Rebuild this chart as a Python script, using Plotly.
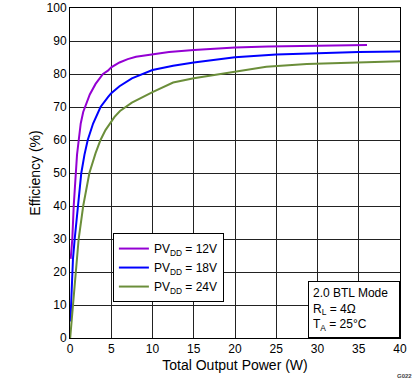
import plotly.graph_objects as go

# Data
p12_x = [0.08, 0.28, 0.45, 0.65, 0.85, 1.06, 1.3, 1.6, 2.0, 2.4, 3.1, 4, 4.6, 5, 6, 7, 8, 10, 12, 15, 17.5, 20, 24, 28, 33.5, 36]
p12_y = [24, 30, 40, 50, 55.5, 60, 65, 68.5, 71.5, 73.8, 77, 80, 81, 82, 83.5, 84.5, 85.2, 86, 86.7, 87.3, 87.7, 88, 88.3, 88.4, 88.7, 88.8]

p18_x = [0.05, 0.1, 0.36, 0.57, 0.97, 1.37, 1.75, 2.15, 2.8, 3.7, 4.6, 5, 6, 7.5, 10, 12.5, 15, 20, 25, 30, 35, 40]
p18_y = [5, 8, 24, 30, 40, 50, 55.5, 60, 65, 70, 73, 74.2, 76.3, 78.7, 81.2, 82.5, 83.5, 85.1, 85.9, 86.4, 86.7, 86.8]

p24_x = [0.02, 0.36, 0.65, 1.05, 1.6, 2.35, 3.1, 3.7, 4.3, 5.4, 6.06, 7.5, 10, 12.5, 15, 20, 23.8, 28.7, 33.5, 38.4, 40]
p24_y = [0, 10, 20, 30, 40, 50, 56, 60, 63, 67, 68.8, 71.3, 74.5, 77.4, 78.7, 80.6, 82.2, 83, 83.4, 83.8, 83.9]

series_names = ["PV<sub>DD</sub> = 12V", "PV<sub>DD</sub> = 18V", "PV<sub>DD</sub> = 24V"]
series_colors = ["#9400D3", "#0000FF", "#6B8E3A"]

x_ticks = [0, 5, 10, 15, 20, 25, 30, 35, 40]
y_ticks = [0, 10, 20, 30, 40, 50, 60, 70, 80, 90, 100]

FONT = "Liberation Sans, Arial, sans-serif"

fig = go.Figure()
for xs, ys, name, col in zip([p12_x, p18_x, p24_x], [p12_y, p18_y, p24_y], series_names, series_colors):
    fig.add_trace(go.Scatter(x=xs, y=ys, mode="lines", name=name,
                             line=dict(color=col, width=2)))

fig.update_layout(
    width=419, height=382,
    margin=dict(l=70, r=19, t=8, b=44),
    paper_bgcolor="white", plot_bgcolor="white",
    font=dict(family=FONT, size=12, color="black"),
    showlegend=True,
    legend=dict(x=0.13, y=0.318, xanchor="left", yanchor="top",
                bordercolor="black", borderwidth=1, bgcolor="white",
                font=dict(size=12), itemwidth=30, tracegroupgap=0),
)
fig.update_xaxes(range=[0, 40], tickvals=x_ticks, showgrid=True, gridcolor="#222222", gridwidth=1,
                 showline=True, linecolor="black", linewidth=1, mirror=True, zeroline=False,
                 automargin=False, ticks="", title=dict(text="Total Output Power (W)", standoff=4))
fig.update_yaxes(range=[0, 100], tickvals=y_ticks, showgrid=True, gridcolor="#222222", gridwidth=1,
                 showline=True, linecolor="black", linewidth=1, mirror=True, zeroline=False,
                 automargin=False, ticks="", title=dict(text="Efficiency (%)", standoff=2))

fig.add_annotation(xref="paper", yref="paper", x=1, y=0, xanchor="right", yanchor="bottom",
                   text="2.0 BTL Mode<br>R<sub>L</sub> = 4Ω<br>T<sub>A</sub> = 25°C",
                   align="left", showarrow=False, bordercolor="black", borderwidth=1,
                   bgcolor="white", borderpad=4, width=82, font=dict(size=12))
fig.add_annotation(xref="paper", yref="paper", x=1.042, y=-0.115, xanchor="right", yanchor="middle",
                   text="<b>G022</b>", showarrow=False, font=dict(size=6, color="#444444"))

fig.write_html("out.html", config={"displayModeBar": False},
               post_script="document.body.style.margin='0px';")
